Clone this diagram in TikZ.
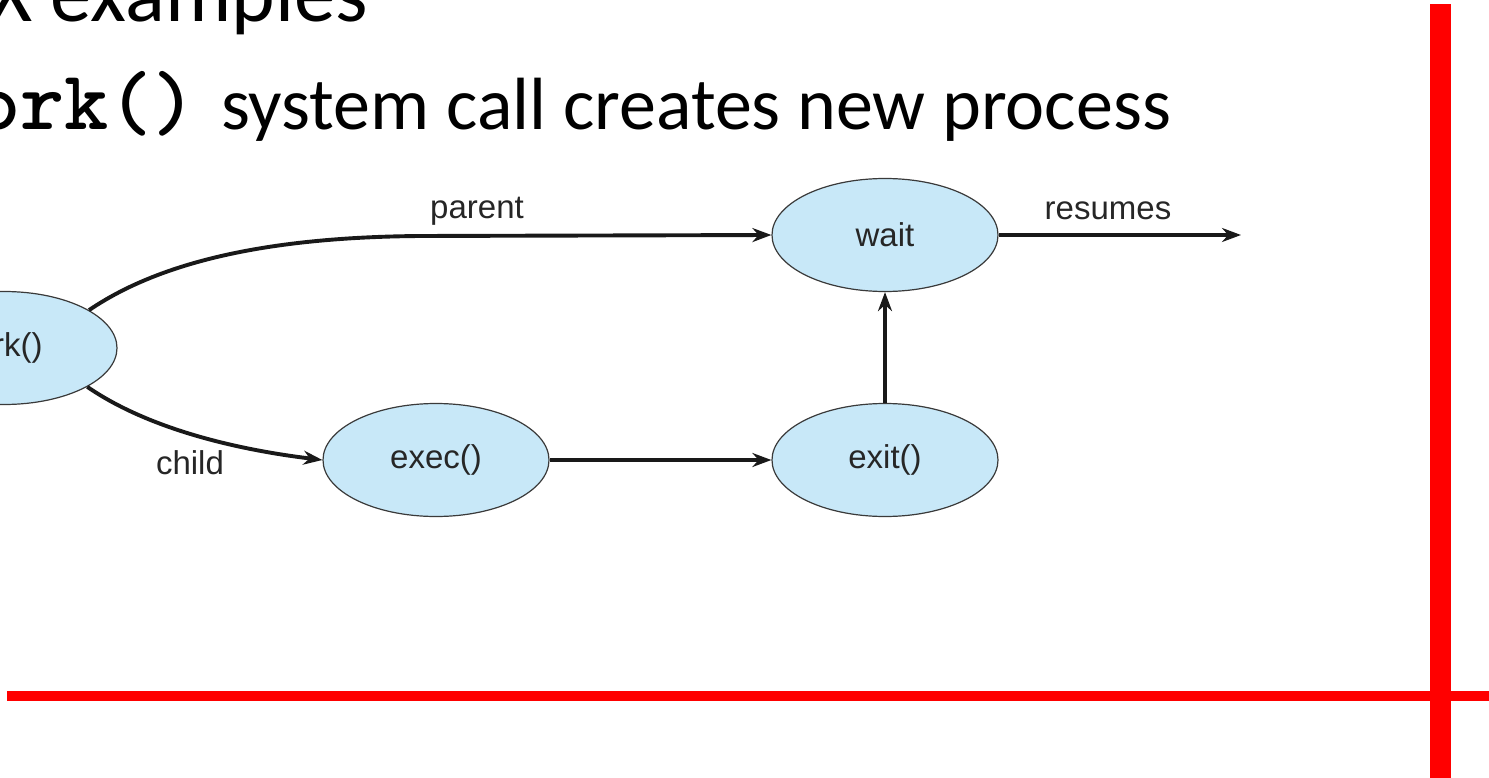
\documentclass[tikz,border=0pt]{standalone}
\usepackage{fontspec}
\setmainfont{Carlito}
\newfontfamily\labelfont{Liberation Sans}
\newfontfamily\codefont{Latin Modern Mono Light}
\usetikzlibrary{shapes.geometric,arrows.meta}
\definecolor{procfill}{HTML}{C8E8F8}
\definecolor{procline}{HTML}{3A3A3A}
\definecolor{barred}{HTML}{FF0000}
\begin{document}
\begin{tikzpicture}[x=1pt,y=-1pt,
  proc/.style={ellipse,draw=procline,line width=1.2pt,fill=procfill,
    minimum width=226pt,minimum height=113pt,inner sep=0pt,
    font=\labelfont\fontsize{33}{36}\selectfont,text=black!85},
  flow/.style={line width=3.9pt,draw=black!90,
    -{Stealth[length=19pt,width=14pt]}},
  edgelabel/.style={font=\labelfont\fontsize{33}{36}\selectfont,text=black!85,inner sep=0pt},
  heading/.style={font=\fontsize{83}{90}\selectfont,inner sep=0pt},
  bullettext/.style={font=\fontsize{74}{80}\selectfont,anchor=base west,inner sep=0pt}]
\useasboundingbox (0,0) rectangle (1489,778);
\clip (0,0) rectangle (1489,778);

% slide text
\node[heading,anchor=base east] (title) at (368,22) {UNIX examples};
\node[bullettext,font=\codefont\bfseries\fontsize{84}{90}\selectfont] (call) at (-68,130) {fork()};
\node[bullettext] (bullet) at (221,130) {system call creates new process};

% process states
\node[proc] (fork) at (4,348) {fork()};
\node[proc] (exec) at (436,460) {exec()};
\node[proc] (exit) at (885,460) {exit()};
\node[proc] (wait) at (885,235) {wait};
\coordinate (out) at (1241,235);

% transitions
\draw[flow] (fork.24) .. controls (170,255) and (290,237) .. (420,236) -- (wait.west);
\draw[flow] (fork.-25) .. controls (150,430) and (240,450) .. (exec.west);
\draw[flow] (exec.east) -- (exit.west);
\draw[flow] (exit.north) -- (wait.south);
\draw[flow] (wait.east) -- (out);

\node[edgelabel] (lparent) at (477,211) {parent};
\node[edgelabel] (lchild) at (190,463) {child};
\node[edgelabel] (lresumes) at (1108,211) {resumes};

% red frame bars
\fill[barred] (7,691) rectangle (1489,701);
\fill[barred] (1430,4) rectangle (1451,778);
\end{tikzpicture}
\end{document}
